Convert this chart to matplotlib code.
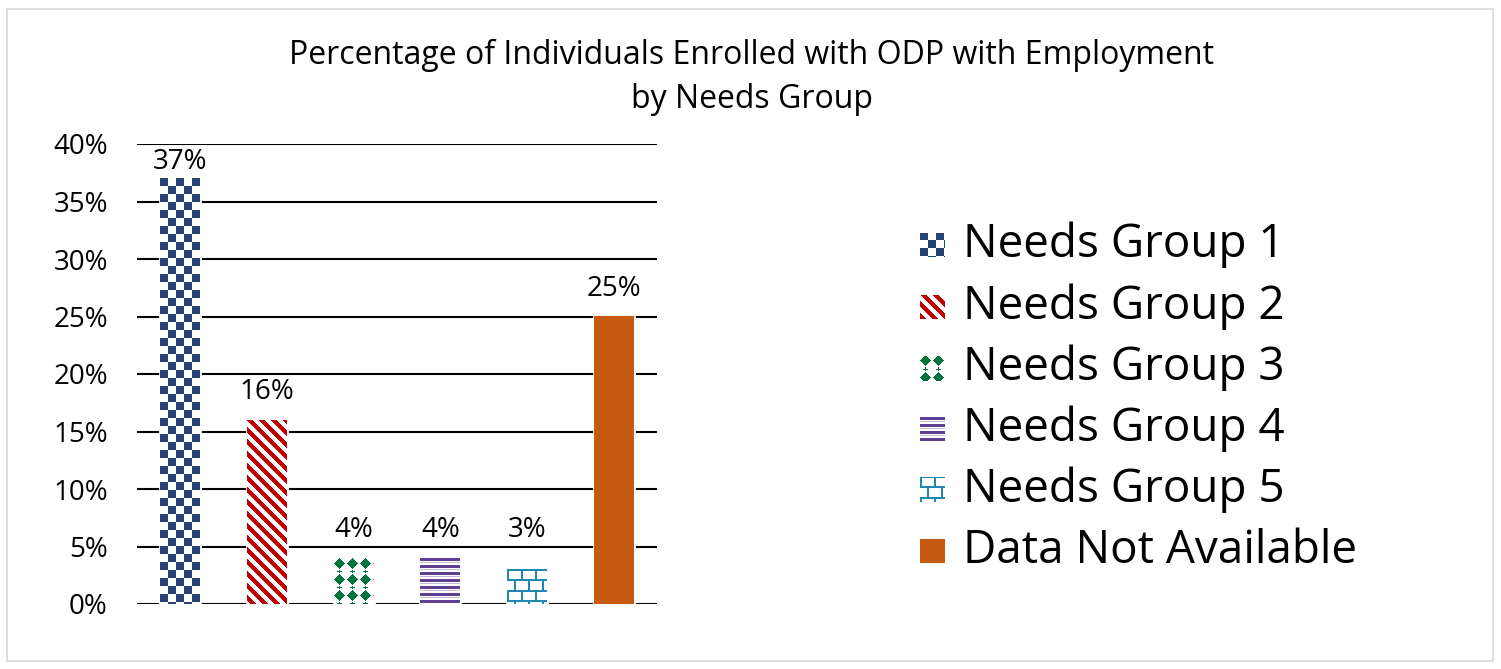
import numpy as np
import matplotlib.pyplot as plt
from matplotlib.colors import to_rgb
from matplotlib.patches import Rectangle

plt.rcParams['font.family'] = ['Open Sans', 'DejaVu Sans']

groups = ["Needs Group 1", "Needs Group 2", "Needs Group 3",
          "Needs Group 4", "Needs Group 5", "Data Not Available"]
shares = [37, 16, 4, 4, 3, 25]
colors = ["#264478", "#C00000", "#00733C", "#5E3F91", "#1F88B2", "#C55A11"]
fills = ["checker", "stripe", "diamond", "hline", "brick", "solid"]
yticks = [0, 5, 10, 15, 20, 25, 30, 35, 40]
title = "Percentage of Individuals Enrolled with ODP with Employment\nby Needs Group"

W, H = 1501, 669


def texture(kind, color, w, h):
    # pixel-level fill pattern, returned as an RGBA image
    r, c = np.mgrid[0:h, 0:w]
    a = np.zeros((h, w))
    if kind == "checker":
        a[((r // 8) + (c // 8)) % 2 == 0] = 1
    elif kind == "stripe":
        a[(c - r) % 12 < 6] = 1
    elif kind == "diamond":
        dy = ((r + 3) % 16) - 8
        dx = ((c + 1) % 13) - 6
        a[np.abs(dx) + np.abs(dy) <= 5] = 1
        a[(dx == 0) & (np.abs(dy) >= 7)] = 1
        a[(np.abs(dx) <= 2) & (dy == -8)] = 1
    elif kind == "hline":
        a[r % 7 < 3] = 1
        a[r % 7 == 4] = 0.35
    elif kind == "brick":
        row = r % 10
        band = r // 10
        a[row < 2] = 1
        a[((c + 7 * (band % 2)) % 14) < 2] = 1
    else:
        a[:] = 1
    rgb = np.array(to_rgb(color))
    img = np.ones((h, w, 4))
    img[..., :3] = 1 - a[..., None] * (1 - rgb)
    return img


fig = plt.figure(figsize=(W / 100, H / 100), dpi=100)
ax = fig.add_axes([137 / W, 1 - 604 / H, 520 / W, 460 / H])

x = np.arange(len(groups))
bw = 0.46
ymax = 40
ax.set_xlim(-0.5, len(groups) - 0.5)
ax.set_ylim(0, ymax)

bars = ax.bar(x, shares, width=bw, color="white", edgecolor="white",
              linewidth=2, zorder=2)

# paint each bar with its pattern
px_per_x = 520 / len(groups)
px_per_y = 460 / ymax
off = 28 / px_per_y
for xi, val, kind, col in zip(x, shares, fills, colors):
    wpx = int(round(bw * px_per_x))
    hpx = int(round(val * px_per_y))
    img = texture(kind, col, wpx, hpx)
    ax.imshow(img, extent=(xi - bw / 2, xi + bw / 2, 0, val), aspect="auto",
              interpolation="nearest", zorder=3)
    # label above the bar, kept clear of the 5% line and inside the plot area
    ly = min(max(val, 4) + off, ymax - 18 / px_per_y)
    ax.text(xi, ly, f"{val}%", ha="center", va="center", fontsize=20)

ax.set_xlim(-0.5, len(groups) - 0.5)
ax.set_ylim(0, ymax)
ax.set_yticks(yticks)
ax.set_yticklabels([f"{t}%" for t in yticks], fontsize=20)
ax.set_xticks([])
ax.tick_params(axis="y", length=0, pad=21)
ax.yaxis.grid(True, color="black", linewidth=1.5)
ax.set_axisbelow(True)
for s in ax.spines.values():
    s.set_visible(False)

for line, yc in zip(title.split("\n"), [55, 100]):
    fig.text(752 / W, 1 - yc / H, line, ha="center", va="center", fontsize=23)

# legend with pattern swatches
leg_y = [245, 307, 368, 429, 490, 551]
sw = 25
for yc, name, kind, col in zip(leg_y, groups, fills, colors):
    sax = fig.add_axes([920 / W, 1 - (yc + sw / 2) / H, sw / W, sw / H])
    sax.imshow(texture(kind, col, sw, sw), interpolation="nearest", aspect="auto")
    sax.axis("off")
    fig.text(963 / W, 1 - yc / H, name, ha="left", va="center", fontsize=33)

fig.patches.append(Rectangle((7 / W, 8 / H), 1486 / W, 652 / H,
                             transform=fig.transFigure, fill=False,
                             edgecolor="#D9D9D9", linewidth=1.2))

fig.savefig("out.png", dpi=100, facecolor="white")
